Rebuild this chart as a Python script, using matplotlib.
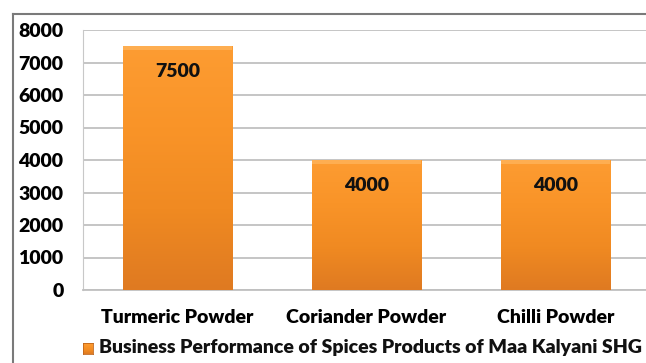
import numpy as np
import matplotlib
matplotlib.use("Agg")
from matplotlib import pyplot as plt
from matplotlib.colors import LinearSegmentedColormap
from matplotlib.patches import Rectangle


products = ["Turmeric Powder", "Coriander Powder", "Chilli Powder"]
sales = [7500, 4000, 4000]
y_ticks = [0, 1000, 2000, 3000, 4000, 5000, 6000, 7000, 8000]
series_name = "Business Performance of Spices Products of Maa Kalyani SHG"

plt.rcParams["font.family"] = ["Lato", "DejaVu Sans"]
plt.rcParams["font.weight"] = "bold"
FS = 14
WEIGHT = "heavy"

orange = LinearSegmentedColormap.from_list(
    "orange", ["#df7a21", "#f08a22", "#f99428", "#fd9c32"])

fig = plt.figure(figsize=(6.46, 3.63), dpi=100)
ax = fig.add_axes([83 / 646, 1 - 290 / 363, 567 / 646, 260 / 363])

x = np.arange(len(products))
bars = ax.bar(x, sales, width=0.58, color="#f7901e", edgecolor="#c0651a",
              linewidth=0.6, zorder=3)

# vertical gradient fill clipped to each bar
grad = np.linspace(0, 1, 256).reshape(-1, 1)
for bar in bars:
    x0, w, h = bar.get_x(), bar.get_width(), bar.get_height()
    im = ax.imshow(grad, cmap=orange, aspect="auto", origin="lower",
                   extent=[x0, x0 + w, 0, h], zorder=3.5)
    im.set_clip_path(bar)
    # light bevel along the top edge
    ax.add_patch(Rectangle((x0, h - 130), w, 130, color="#ffb45a",
                           alpha=0.8, lw=0, zorder=3.6))
    ax.text(x0 + w / 2, h - 770, f"{h:.0f}", ha="center", va="center",
            fontsize=FS, fontweight=WEIGHT, color="#111111", zorder=5)

ax.set_xlim(-0.5, len(products) - 0.5)
ax.set_ylim(0, 8000)
ax.set_yticks(y_ticks)
ax.set_yticklabels([str(v) for v in y_ticks], fontsize=FS, fontweight=WEIGHT)
ax.set_xticks(x)
ax.set_xticklabels(products, fontsize=FS, fontweight=WEIGHT)
ax.tick_params(axis="y", length=0, pad=14)
ax.tick_params(axis="x", length=0, pad=14)
ax.grid(axis="y", color="#c0c0c0", linewidth=1.3, zorder=0)
ax.set_axisbelow(True)
for side in ["top", "right"]:
    ax.spines[side].set_visible(False)
ax.spines["left"].set_color("#c8c8c8")
ax.spines["bottom"].set_color("#c0c0c0")
ax.spines["bottom"].set_linewidth(1.3)

# outer chart border
fig.add_artist(plt.Line2D([13 / 646, 13 / 646], [0, 1 - 14 / 363],
                          color="#7a7a7a", lw=1.5))
fig.add_artist(plt.Line2D([13 / 646, 1], [1 - 14 / 363, 1 - 14 / 363],
                          color="#7a7a7a", lw=1.5))

# legend key and label
key = fig.add_axes([83 / 646, 1 - 354 / 363, 10 / 646, 11 / 363])
key.imshow(grad, cmap=orange, aspect="auto", origin="lower")
key.set_xticks([])
key.set_yticks([])
for s in key.spines.values():
    s.set_color("#c0651a")
    s.set_linewidth(0.6)
fig.text(99 / 646, 1 - 348 / 363, series_name, ha="left", va="center",
         fontsize=FS, fontweight=WEIGHT, color="#111111")

fig.savefig("out.png", dpi=100)
